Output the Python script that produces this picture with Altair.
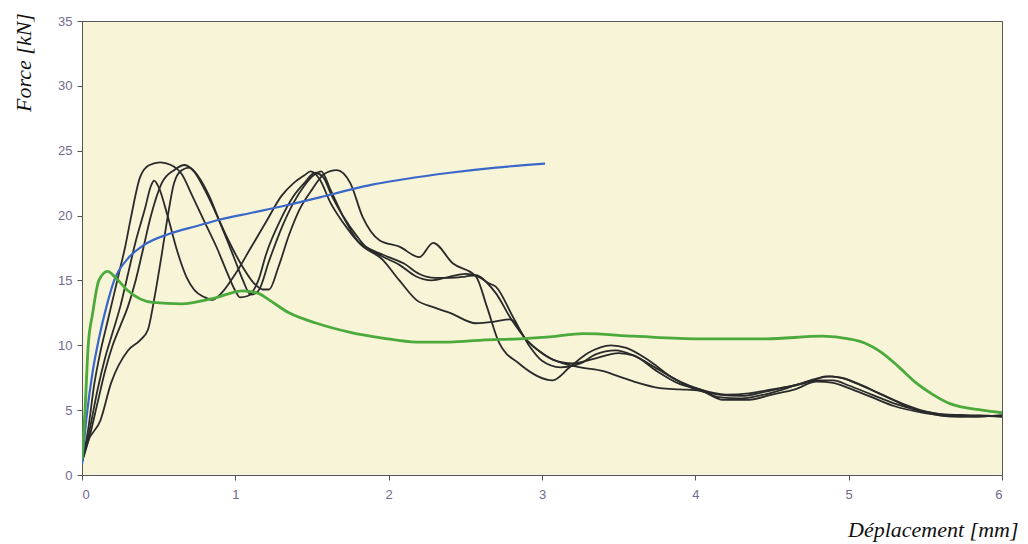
import altair as alt
import pandas as pd

# ---- data ----
blue_x = [0, 0.03, 0.07, 0.11, 0.16, 0.21, 0.3, 0.4, 0.57, 0.75, 0.9, 1.1, 1.3, 1.55, 1.75, 1.9, 2.1, 2.4, 2.7, 3.02]
blue_y = [0.8, 4.5, 8.0, 10.5, 13.0, 15.0, 16.7, 17.7, 18.6, 19.2, 19.7, 20.2, 20.7, 21.4, 22.0, 22.4, 22.8, 23.3, 23.7, 24.0]

green_x = [0, 0.02, 0.04, 0.07, 0.11, 0.167, 0.22, 0.3, 0.46, 0.65, 0.85, 1.05, 1.15, 1.22, 1.35, 1.53, 1.75, 1.96, 2.18,
           2.4, 2.61, 2.85, 3.05, 3.27, 3.6, 4.03, 4.46, 4.83, 5.0, 5.1, 5.22, 5.33, 5.44, 5.55, 5.66, 5.87, 6.0]
green_y = [1.2, 5.0, 9.9, 12.5, 15.0, 15.7, 15.2, 14.2, 13.3, 13.2, 13.6, 14.2, 14.0, 13.5, 12.5, 11.7, 11.0, 10.56, 10.25,
           10.25, 10.4, 10.5, 10.65, 10.9, 10.7, 10.5, 10.5, 10.7, 10.5, 10.2, 9.4, 8.3, 7.1, 6.2, 5.5, 5.0, 4.8]

a_x = [0, 0.05, 0.1, 0.15, 0.2, 0.25, 0.3, 0.35, 0.41, 0.45, 0.47, 0.5, 0.56, 0.62, 0.68, 0.73, 0.8, 0.85, 0.9, 1.0,
       1.1, 1.2, 1.3, 1.38, 1.45, 1.49, 1.55, 1.62, 1.7, 1.8, 1.9, 2.0, 2.1, 2.2, 2.3, 2.4, 2.5, 2.57, 2.65, 2.7,
       2.81, 2.92, 3.0, 3.12, 3.25, 3.35, 3.48, 3.6, 3.75, 3.9, 4.03, 4.2, 4.35, 4.5, 4.65, 4.8, 4.9, 5.0, 5.15,
       5.3, 5.45, 5.6, 5.8, 6.0]
a_y = [1.0, 3.5, 6.5, 9.0, 11.0, 13.0, 15.5, 18.0, 20.5, 22.3, 22.7, 22.2, 19.9, 17.3, 15.3, 14.3, 13.7, 13.5, 13.9, 15.5,
       17.5, 19.5, 21.5, 22.5, 23.1, 23.4, 22.8, 21.0, 19.5, 18.0, 17.3, 16.8, 16.3, 15.5, 15.2, 15.2, 15.3, 15.4, 14.8, 14.5,
       12.2, 9.9, 8.8, 8.3, 8.6, 9.3, 9.6, 9.2, 8.2, 7.2, 6.6, 6.2, 6.3, 6.6, 6.9, 7.3, 7.3, 6.9, 6.2,
       5.5, 5.0, 4.7, 4.6, 4.5]

b_x = [0, 0.04, 0.08, 0.12, 0.16, 0.2, 0.25, 0.28, 0.32, 0.38, 0.44, 0.51, 0.58, 0.65, 0.72, 0.8, 0.88, 0.95, 1.0, 1.03,
       1.08, 1.15, 1.2, 1.3, 1.38, 1.45, 1.52, 1.57, 1.63, 1.7, 1.8, 1.85, 1.95, 2.07, 2.18, 2.28, 2.4, 2.5, 2.6, 2.7,
       2.8, 2.9, 3.0, 3.07, 3.2, 3.35, 3.5, 3.6, 3.75, 3.9, 4.03, 4.15, 4.3, 4.45, 4.6, 4.75, 4.88, 4.98, 5.1, 5.25,
       5.4, 5.55, 5.7, 5.85, 6.0]
b_y = [1.0, 3.5, 7.0, 9.5, 11.5, 13.5, 16.0, 17.5, 19.9, 23.0, 23.9, 24.1, 23.9, 23.2, 21.5, 19.5, 17.5, 15.5, 14.2, 13.7,
       13.8, 15.0, 17.0, 19.8, 21.5, 22.5, 23.3, 23.0, 21.5, 20.0, 18.3, 17.6, 16.9, 16.2, 15.3, 15.0, 15.3, 15.5, 15.2, 14.0,
       12.0, 10.4, 9.4, 8.9, 8.6, 9.0, 9.4, 9.2, 8.0, 7.0, 6.6, 6.0, 5.9, 6.2, 6.7, 7.3, 7.6, 7.4, 6.8, 6.0,
       5.2, 4.7, 4.5, 4.6, 4.5]

c_x = [0, 0.05, 0.1, 0.15, 0.2, 0.25, 0.3, 0.35, 0.4, 0.45, 0.52, 0.6, 0.67, 0.73, 0.8, 0.88, 0.95, 1.0, 1.05, 1.1,
       1.15, 1.22, 1.3, 1.38, 1.45, 1.52, 1.56, 1.62, 1.7, 1.8, 1.96, 2.07, 2.18, 2.3, 2.4, 2.57, 2.68, 2.79, 2.9,
       3.07, 3.25, 3.4, 3.5, 3.6, 3.77, 3.9, 4.03, 4.18, 4.35, 4.5, 4.65, 4.79, 4.9, 5.0, 5.15, 5.3, 5.44, 5.6,
       5.8, 6.0]
c_y = [1.0, 3.0, 5.5, 8.0, 10.0, 11.5, 13.0, 15.0, 17.5, 20.0, 22.5, 23.5, 23.9, 23.4, 22.0, 20.0, 18.0, 16.5, 15.0, 13.9,
       14.2, 16.5, 19.0, 21.0, 22.3, 23.2, 23.4, 22.0, 20.0, 18.0, 16.6, 15.0, 13.5, 12.9, 12.5, 11.7, 11.8, 12.0, 10.4,
       8.9, 8.3, 8.0, 7.6, 7.2, 6.7, 6.6, 6.5, 5.8, 5.8, 6.2, 6.6, 7.2, 7.1, 6.7, 6.0, 5.3, 4.9, 4.6,
       4.5, 4.6]

d_x = [0, 0.036, 0.12, 0.19, 0.3, 0.38, 0.43, 0.47, 0.52, 0.56, 0.6, 0.65, 0.7, 0.76, 0.83, 0.9, 0.98, 1.05, 1.12,
       1.18, 1.22, 1.28, 1.35, 1.42, 1.5, 1.58, 1.66, 1.75, 1.83, 1.94, 2.07, 2.2, 2.29, 2.42, 2.57, 2.64, 2.72, 2.85,
       3.07, 3.18, 3.3, 3.45, 3.55, 3.7, 3.85, 4.0, 4.15, 4.3, 4.45, 4.6, 4.75, 4.85, 4.95, 5.05, 5.2, 5.35, 5.5,
       5.65, 5.8, 6.0]
d_y = [1.0, 2.5, 4.2, 7.1, 9.6, 10.4, 11.2, 13.5, 17.0, 20.0, 22.5, 23.5, 23.7, 23.0, 21.5, 19.5, 17.5, 16.0, 14.8,
       14.3, 14.3, 16.0, 18.5, 20.5, 22.0, 23.2, 23.5, 22.5, 19.9, 18.1, 17.6, 16.8, 17.9, 16.3, 15.3, 13.0, 10.2, 8.6,
       7.3, 8.3, 9.4, 10.0, 9.8, 8.8, 7.5, 6.6, 6.2, 6.1, 6.4, 6.8, 7.2, 7.6, 7.5, 7.1, 6.3, 5.5, 4.9,
       4.6, 4.5, 4.6]

series = [
    ("essai A", a_x, a_y),
    ("essai B", b_x, b_y),
    ("essai C", c_x, c_y),
    ("essai D", d_x, d_y),
    ("modele 1", blue_x, blue_y),
    ("modele 2", green_x, green_y),
]
names = [s[0] for s in series]
colors = ["#2a2a2a", "#2a2a2a", "#2a2a2a", "#2a2a2a", "#3a68c8", "#4caa3c"]
widths = [1.8, 1.8, 1.8, 1.8, 2.2, 2.8]

rows = []
for k, (name, xs, ys) in enumerate(series):
    for i, (x, y) in enumerate(zip(xs, ys)):
        rows.append({"serie": name, "x": x, "y": y, "i": i, "layer": k})
df = pd.DataFrame(rows)

label_color = "#74698e"
x_scale = alt.Scale(domain=[0, 6], nice=False, zero=False)
y_scale = alt.Scale(domain=[0, 35], nice=False)

x_axis = alt.Axis(
    title="Déplacement [mm]", values=[0, 1, 2, 3, 4, 5, 6], format="d",
    grid=False, domainColor="#555555", tickColor="#555555", tickSize=5,
    labelFont="Liberation Sans", labelFontSize=13, labelColor=label_color, labelPadding=8,
    titleFont="Liberation Serif", titleFontStyle="italic", titleFontWeight="normal",
    titleFontSize=22, titleColor="#111111",
    titleAlign="right", titleAnchor="end", titleX=936, titleY=61, titleBaseline="alphabetic",
)
y_axis = alt.Axis(
    title="Force [kN]", values=[0, 5, 10, 15, 20, 25, 30, 35], format="d",
    grid=False, domainColor="#555555", tickColor="#555555", tickSize=5,
    labelFont="Liberation Sans", labelFontSize=13, labelColor=label_color, labelPadding=5,
    titleFont="Liberation Serif", titleFontStyle="italic", titleFontWeight="normal",
    titleFontSize=22, titleColor="#111111",
    titleAngle=-90, titleAlign="center", titleBaseline="middle", titleX=-59, titleY=41,
)

layers = []
for k, name in enumerate(names):
    sub = df[df["serie"] == name]
    layers.append(
        alt.Chart(sub).mark_line(color=colors[k], strokeWidth=widths[k], interpolate="monotone", clip=True).encode(
            x=alt.X("x:Q", scale=x_scale, axis=x_axis),
            y=alt.Y("y:Q", scale=y_scale, axis=y_axis),
            order="i:Q",
        )
    )

chart = alt.layer(*layers).properties(
    width=920, height=454,
    autosize=alt.AutoSizeParams(type="none"),
    padding={"left": 74, "top": 13, "right": 18, "bottom": 68},
    background="white",
).configure_view(
    fill="#F7F4D8", stroke="#555555", strokeWidth=1
)

chart.save("out.html", embed_options={"renderer": "svg", "actions": False})
